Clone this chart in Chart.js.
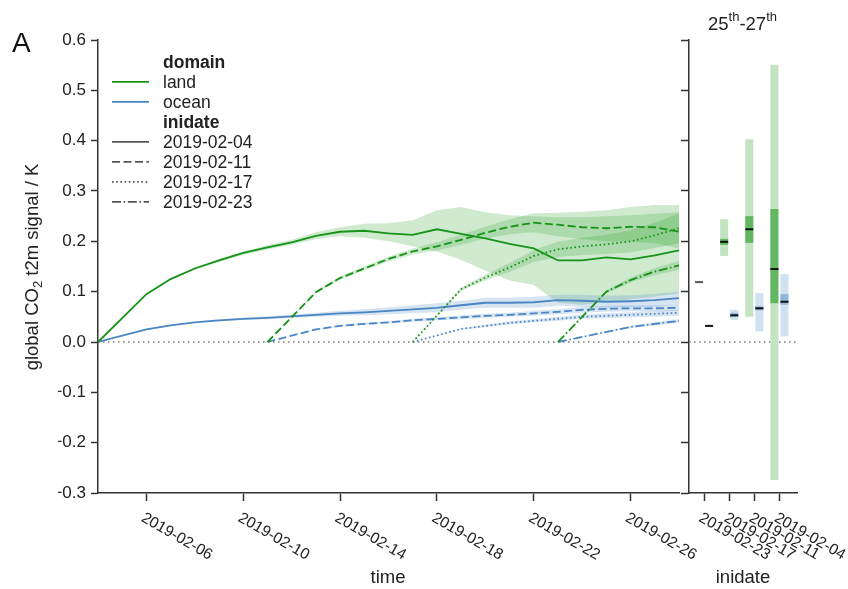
<!DOCTYPE html>
<html><head><meta charset="utf-8">
<script src="https://cdn.jsdelivr.net/npm/chart.js@4.4.1/dist/chart.umd.min.js"></script>
<style>
html,body{margin:0;padding:0;background:#fff;}
#wrap{position:relative;width:848px;height:589px;overflow:hidden;}
canvas{position:absolute;left:0;top:0;}
</style></head><body>
<div id="wrap"><canvas id="c1" width="848" height="589"></canvas><canvas id="c2" width="848" height="589"></canvas></div>
<script>
// ---------------- data ----------------
const inidates = ['2019-02-04','2019-02-11','2019-02-17','2019-02-23'];
const xTickDays = [6,10,14,18,22,26];
const xTickLabels = ['2019-02-06','2019-02-10','2019-02-14','2019-02-18','2019-02-22','2019-02-26'];
const yTickValues = [-0.3,-0.2,-0.1,0,0.1,0.2,0.3,0.4,0.5,0.6];
const yTickLabels = ['\u22120.3','\u22120.2','\u22120.1','0.0','0.1','0.2','0.3','0.4','0.5','0.6'];

const days04 = [4,6,7,8,9,10,11,12,13,14,15,16,17,18,19,20,21,22,23,24,25,26,27,28];
const land04   = [0,0.095,0.125,0.146,0.162,0.177,0.188,0.198,0.211,0.219,0.221,0.216,0.213,0.224,0.215,0.206,0.195,0.186,0.162,0.162,0.168,0.164,0.172,0.182];
const land04Lo = [0,0.094,0.123,0.144,0.159,0.173,0.184,0.193,0.204,0.210,0.207,0.200,0.190,0.180,0.163,0.142,0.122,0.113,0.078,0.074,0.080,0.085,0.090,0.097];
const land04Hi = [0,0.096,0.127,0.148,0.165,0.180,0.192,0.203,0.218,0.228,0.235,0.236,0.242,0.262,0.268,0.258,0.252,0.250,0.248,0.248,0.250,0.252,0.255,0.258];
const ocean04   = [0,0.025,0.033,0.039,0.043,0.046,0.048,0.051,0.054,0.057,0.059,0.062,0.065,0.068,0.073,0.078,0.078,0.079,0.083,0.082,0.080,0.081,0.083,0.087];
const ocean04Lo = [0,0.024,0.032,0.038,0.041,0.044,0.045,0.048,0.050,0.052,0.053,0.055,0.057,0.059,0.064,0.068,0.068,0.068,0.072,0.070,0.068,0.069,0.070,0.074];
const ocean04Hi = [0,0.026,0.034,0.040,0.045,0.048,0.051,0.054,0.058,0.062,0.065,0.069,0.073,0.077,0.082,0.088,0.088,0.090,0.094,0.094,0.092,0.093,0.096,0.100];

const days11 = [11,13,14,15,16,17,18,19,20,21,22,23,24,25,26,27,28];
const land11   = [0,0.099,0.127,0.146,0.165,0.180,0.190,0.203,0.217,0.229,0.237,0.233,0.228,0.226,0.229,0.228,0.219];
const land11Lo = [0,0.097,0.124,0.142,0.160,0.174,0.182,0.193,0.205,0.214,0.218,0.210,0.204,0.200,0.199,0.196,0.186];
const land11Hi = [0,0.101,0.130,0.150,0.170,0.186,0.198,0.213,0.229,0.244,0.256,0.257,0.259,0.262,0.268,0.272,0.272];
const ocean11   = [0,0.025,0.032,0.036,0.039,0.043,0.046,0.049,0.052,0.054,0.057,0.060,0.064,0.066,0.067,0.067,0.068];
const ocean11Lo = [0,0.024,0.031,0.034,0.037,0.040,0.043,0.045,0.048,0.050,0.052,0.055,0.058,0.060,0.061,0.061,0.062];
const ocean11Hi = [0,0.026,0.033,0.038,0.041,0.046,0.049,0.053,0.056,0.058,0.062,0.065,0.070,0.072,0.073,0.073,0.074];

const days17 = [17,19,20,21,22,23,24,25,26,27,28];
const land17   = [0,0.105,0.128,0.148,0.171,0.184,0.190,0.194,0.200,0.212,0.226];
const land17Lo = [0,0.102,0.122,0.139,0.159,0.169,0.173,0.175,0.178,0.187,0.196];
const land17Hi = [0,0.108,0.134,0.157,0.183,0.199,0.207,0.213,0.222,0.237,0.256];
const ocean17   = [0,0.026,0.032,0.038,0.042,0.046,0.050,0.052,0.054,0.056,0.058];
const ocean17Lo = [0,0.025,0.030,0.035,0.039,0.042,0.046,0.047,0.049,0.050,0.052];
const ocean17Hi = [0,0.027,0.034,0.041,0.045,0.050,0.054,0.057,0.059,0.062,0.064];

const days23 = [23,25,26,27,28];
const land23   = [0,0.100,0.123,0.140,0.152];
const land23Lo = [0,0.097,0.118,0.133,0.143];
const land23Hi = [0,0.103,0.128,0.147,0.161];
const ocean23   = [0,0.020,0.030,0.036,0.042];
const ocean23Lo = [0,0.019,0.028,0.033,0.038];
const ocean23Hi = [0,0.021,0.032,0.039,0.046];

// right panel: mean over 25th-27th per inidate
const panelCats = ['2019-02-23','2019-02-17','2019-02-11','2019-02-04'];
const landRangeLo  = [null,0.171,0.050,-0.274];
const landRangeHi  = [null,0.244,0.403,0.551];
const landIqrLo    = [null,0.193,0.197,0.077];
const landIqrHi    = [null,0.205,0.250,0.264];
const landMedian   = [0.119,0.199,0.224,0.145];
const oceanRangeLo = [null,0.044,0.021,0.011];
const oceanRangeHi = [null,0.064,0.097,0.135];
const oceanIqrLo   = [null,0.050,0.063,0.074];
const oceanIqrHi   = [null,0.058,0.071,0.095];
const oceanMedian  = [0.032,0.053,0.067,0.080];

// ---------------- style ----------------
const FONT = '"Liberation Sans", Arial, Helvetica, sans-serif';
const LAND = '#179317';
const OCEAN = '#4b86c4';
const LAND_BAND = 'rgba(40,160,40,0.22)';
const OCEAN_BAND = 'rgba(75,134,196,0.22)';
const AXIS = '#333';
const TXT = '#222';
const DASHES = [[], [8,3.5], [1.6,2.6], [9,2.6,1.6,2.6]];
const MED = 0.002;

Chart.defaults.font.family = FONT;
Chart.defaults.font.size = 17;
Chart.defaults.color = TXT;

// ---------------- left chart ----------------
const ds = [];
function addBand(days, lo, hi, color) {
  ds.push({data: days.map((d,i)=>({x:d,y:hi[i]})), borderColor:'rgba(0,0,0,0)', borderWidth:0, pointRadius:0, fill:false, order:10});
  ds.push({data: days.map((d,i)=>({x:d,y:lo[i]})), borderColor:'rgba(0,0,0,0)', borderWidth:0, pointRadius:0, fill:'-1', backgroundColor:color, order:10});
}
function addLine(days, vals, color, dash, order) {
  ds.push({data: days.map((d,i)=>({x:d,y:vals[i]})), borderColor:color, borderWidth:1.8, borderDash:dash, pointRadius:0, fill:false, tension:0, order:order});
}
addBand(days04, ocean04Lo, ocean04Hi, OCEAN_BAND);
addBand(days11, ocean11Lo, ocean11Hi, OCEAN_BAND);
addBand(days17, ocean17Lo, ocean17Hi, OCEAN_BAND);
addBand(days23, ocean23Lo, ocean23Hi, OCEAN_BAND);
addBand(days04, land04Lo, land04Hi, LAND_BAND);
addBand(days11, land11Lo, land11Hi, LAND_BAND);
addBand(days17, land17Lo, land17Hi, LAND_BAND);
addBand(days23, land23Lo, land23Hi, LAND_BAND);
addLine(days04, ocean04, OCEAN, DASHES[0], 2);
addLine(days11, ocean11, OCEAN, DASHES[1], 2);
addLine(days17, ocean17, OCEAN, DASHES[2], 2);
addLine(days23, ocean23, OCEAN, DASHES[3], 2);
addLine(days04, land04, LAND, DASHES[0], 1);
addLine(days11, land11, LAND, DASHES[1], 1);
addLine(days17, land17, LAND, DASHES[2], 1);
addLine(days23, land23, LAND, DASHES[3], 1);

const zeroLine = {
  id:'zeroLine',
  beforeDatasetsDraw(chart) {
    const {ctx, chartArea:a} = chart; const y = chart.scales.y.getPixelForValue(0);
    ctx.save(); ctx.strokeStyle = '#777'; ctx.lineWidth = 1.5; ctx.setLineDash([1.5,3.5]);
    ctx.beginPath(); ctx.moveTo(a.left, y); ctx.lineTo(a.right, y); ctx.stroke(); ctx.restore();
  }
};
const rotLabels = {
  id:'rotLabels',
  afterDraw(chart, args, o) {
    const ctx = chart.ctx, xs = chart.scales.x;
    ctx.save(); ctx.font = '15.5px ' + FONT; ctx.fillStyle = TXT; ctx.textAlign = 'left'; ctx.textBaseline = 'top';
    o.values.forEach((v,i) => {
      const px = xs.getPixelForValue(v);
      ctx.save(); ctx.translate(px, o.top); ctx.rotate(Math.PI/6); ctx.fillText(o.labels[i], 0, 0); ctx.restore();
    });
    ctx.font = '18.5px ' + FONT;
    ctx.textAlign = 'center'; ctx.textBaseline = 'middle';
    ctx.fillText(o.title, o.titleX, o.titleY);
    ctx.restore();
  }
};
const leftDecor = {
  id:'leftDecor',
  afterDraw(chart) {
    const ctx = chart.ctx;
    ctx.save();
    ctx.fillStyle = '#111'; ctx.font = '28px ' + FONT; ctx.textAlign = 'left'; ctx.textBaseline = 'alphabetic';
    ctx.fillText('A', 12, 52);
    // y axis title with subscript
    const f = '18.5px ' + FONT, fs = '13px ' + FONT;
    const p1 = 'global CO', p2 = '2', p3 = ' t2m signal / K';
    ctx.font = f; const w1 = ctx.measureText(p1).width, w3 = ctx.measureText(p3).width;
    ctx.font = fs; const w2 = ctx.measureText(p2).width;
    const tw = w1 + w2 + w3;
    ctx.translate(38, 267); ctx.rotate(-Math.PI/2);
    ctx.fillStyle = TXT;
    let x = -tw/2;
    ctx.font = f; ctx.fillText(p1, x, 0); x += w1;
    ctx.font = fs; ctx.fillText(p2, x, 4); x += w2;
    ctx.font = f; ctx.fillText(p3, x, 0);
    ctx.restore();
    // legend
    const items = [
      {head:true, text:'domain'},
      {text:'land', color:LAND, dash:[]},
      {text:'ocean', color:OCEAN, dash:[]},
      {head:true, text:'inidate'},
      {text:inidates[0], color:'#555', dash:DASHES[0]},
      {text:inidates[1], color:'#555', dash:DASHES[1]},
      {text:inidates[2], color:'#555', dash:DASHES[2]},
      {text:inidates[3], color:'#555', dash:DASHES[3]}
    ];
    ctx.save();
    items.forEach((it, i) => {
      const base = 68.3 + 20*i;
      ctx.fillStyle = TXT; ctx.textAlign = 'left'; ctx.textBaseline = 'alphabetic';
      ctx.font = (it.head ? 'bold ' : '') + '17.5px ' + FONT;
      ctx.fillText(it.text, 163, base);
      if (!it.head) {
        ctx.strokeStyle = it.color; ctx.lineWidth = 1.8; ctx.setLineDash(it.dash);
        ctx.beginPath(); ctx.moveTo(112, base - 6.5); ctx.lineTo(149, base - 6.5); ctx.stroke();
      }
    });
    ctx.restore();
  }
};

new Chart(document.getElementById('c1'), {
  type: 'line',
  data: { datasets: ds },
  options: {
    responsive:false, animation:false, events:[],
    layout:{ padding:{ left:58, right:169, top:40, bottom:56 } },
    plugins:{ legend:{display:false}, tooltip:{enabled:false},
      rotLabels:{ values:xTickDays, labels:xTickLabels, top:510, title:'time', titleX:388, titleY:578 } },
    scales:{
      x:{ type:'linear', min:4, max:28,
        afterBuildTicks:(s)=>{ s.ticks = xTickDays.map(v=>({value:v})); },
        afterFit:(s)=>{ s.height = 40; },
        ticks:{ display:false },
        grid:{ display:true, drawOnChartArea:false, drawTicks:true, tickLength:8, tickColor:AXIS, tickWidth:1.5 },
        border:{ display:true, color:AXIS, width:1.5 } },
      y:{ type:'linear', min:-0.3, max:0.6,
        afterBuildTicks:(s)=>{ s.ticks = yTickValues.map(v=>({value:v})); },
        afterFit:(s)=>{ s.width = 40; },
        ticks:{ padding:5, color:TXT, font:{size:17}, callback:(v,i)=>yTickLabels[i] },
        grid:{ display:true, drawOnChartArea:false, drawTicks:true, tickLength:7, tickColor:AXIS, tickWidth:1.5 },
        border:{ display:true, color:AXIS, width:1.5 } }
    }
  },
  plugins:[zeroLine, rotLabels, leftDecor]
});

// ---------------- right chart ----------------
function floating(lo, hi) {
  const out = [];
  lo.forEach((l,i) => { if (l !== null) out.push({x:i, y:[l, hi[i]]}); });
  return out;
}
function medians(m) { return m.map((v,i)=>({x:i, y:[v-MED, v+MED]})); }
const barCommon = { categoryPercentage:0.8, barPercentage:0.8, borderWidth:0, borderSkipped:false };
const bars = [
  Object.assign({data:medians(landMedian), stack:'land', backgroundColor:['#555','#111','#111','#111'], order:0}, barCommon),
  Object.assign({data:medians(oceanMedian), stack:'ocean', backgroundColor:'#111', order:0}, barCommon),
  Object.assign({data:floating(landIqrLo, landIqrHi), stack:'land', backgroundColor:'#63b763', order:1}, barCommon),
  Object.assign({data:floating(oceanIqrLo, oceanIqrHi), stack:'ocean', backgroundColor:'#8fb6dc', order:1}, barCommon),
  Object.assign({data:floating(landRangeLo, landRangeHi), stack:'land', backgroundColor:'#c4e4c1', order:2}, barCommon),
  Object.assign({data:floating(oceanRangeLo, oceanRangeHi), stack:'ocean', backgroundColor:'#d0e1f1', order:2}, barCommon)
];
const rightTitle = {
  id:'rightTitle',
  afterDraw(chart) {
    const ctx = chart.ctx;
    const parts = [['25',0],['th',1],['-',0],['27',0],['th',1]];
    ctx.save(); ctx.fillStyle = TXT; ctx.textAlign='left'; ctx.textBaseline='alphabetic';
    let tw = 0;
    parts.forEach(p => { ctx.font = (p[1] ? '13px ' : '18.5px ') + FONT; tw += ctx.measureText(p[0]).width; });
    let x = 742.5 - tw/2;
    parts.forEach(p => { ctx.font = (p[1] ? '13px ' : '18.5px ') + FONT; ctx.fillText(p[0], x, p[1] ? 21 : 29.5); x += ctx.measureText(p[0]).width; });
    ctx.restore();
  }
};
new Chart(document.getElementById('c2'), {
  type: 'bar',
  data: { datasets: bars },
  options: {
    responsive:false, animation:false, events:[],
    layout:{ padding:{ left:679, right:51, top:40, bottom:56 } },
    plugins:{ legend:{display:false}, tooltip:{enabled:false},
      rotLabels:{ values:panelCats.map((c,i)=>i), labels:panelCats, top:510, title:'inidate', titleX:743, titleY:578 } },
    scales:{
      x:{ type:'linear', min:-0.6, max:3.7, stacked:true, offset:false,
        afterBuildTicks:(s)=>{ s.ticks = panelCats.map((c,i)=>({value:i})); },
        afterFit:(s)=>{ s.height = 40; },
        ticks:{ display:false },
        grid:{ display:true, drawOnChartArea:false, drawTicks:true, tickLength:8, tickColor:AXIS, tickWidth:1.5, offset:false },
        border:{ display:true, color:AXIS, width:1.5 } },
      y:{ type:'linear', min:-0.3, max:0.6, stacked:false,
        afterBuildTicks:(s)=>{ s.ticks = yTickValues.map(v=>({value:v})); },
        afterFit:(s)=>{ s.width = 10; },
        ticks:{ display:false },
        grid:{ display:true, drawOnChartArea:false, drawTicks:true, tickLength:8, tickColor:AXIS, tickWidth:1.5 },
        border:{ display:true, color:AXIS, width:1.5 } }
    }
  },
  plugins:[zeroLine, rotLabels, rightTitle]
});
</script>
</body></html>
